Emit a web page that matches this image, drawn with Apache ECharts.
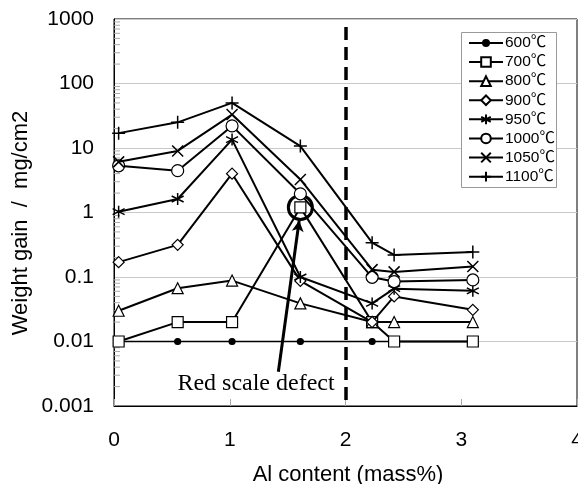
<!DOCTYPE html>
<html>
<head>
<meta charset="utf-8">
<script src="https://cdn.jsdelivr.net/npm/echarts@6/dist/echarts.min.js"></script>
<style>
  html, body { margin: 0; padding: 0; background: #fff; }
  #chart { width: 578px; height: 484px; }
</style>
</head>
<body>
<div id="chart"></div>
<script>
// ---- data ----
const alContent = [0.04, 0.55, 1.02, 1.61, 2.23, 2.42, 3.1];
const s600  = [0.01, 0.01, 0.01, 0.01, 0.01, 0.01, 0.01];
const s700  = [0.01, 0.02, 0.02, 1.2, 0.02, 0.01, 0.01];
const s800  = [0.03, 0.067, 0.088, 0.039, 0.02, 0.02, 0.02];
const s900  = [0.17, 0.315, 4.0, 0.087, 0.02, 0.05, 0.031];
const s950  = [1.03, 1.62, 13.5, 0.1, 0.039, 0.066, 0.061];
const s1000 = [5.3, 4.45, 22, 1.95, 0.099, 0.085, 0.09];
const s1050 = [6.1, 9.0, 33, 3.25, 0.13, 0.12, 0.145];
const s1100 = [17, 25, 50, 10.7, 0.34, 0.22, 0.245];
const seriesNames = ['600℃', '700℃', '800℃', '900℃', '950℃', '1000℃', '1050℃', '1100℃'];
const xTickLabels = ['0', '1', '2', '3', '4'];
const yTickValues = [0.001, 0.01, 0.1, 1, 10, 100, 1000];
const yTickLabels = ['0.001', '0.01', '0.1', '1', '10', '100', '1000'];
const minorFactors = [2, 3, 4, 5, 6, 7, 8, 9];
const defectPoint = [1.61, 1.2];
const boundaryAl = 2;
const annotationText = 'Red scale defect';
const xTitle = 'Al content (mass%)';
const yTitle = 'Weight gain  /  mg/cm2';

// ---- build ----
const allValues = [s600, s700, s800, s900, s950, s1000, s1050, s1100];
const symbols = [
  'circle', 'rect', 'triangle', 'diamond',
  'path://M0,-1L0,1M-0.866,-0.5L0.866,0.5M-0.866,0.5L0.866,-0.5',
  'circle',
  'path://M-1,-1L1,1M-1,1L1,-1',
  'path://M0,-1L0,1M-1,0L1,0'
];
const sizes = [6, 11, 11, 11, 12, 12, 11, 13];
const filled = [true, false, false, false, false, false, false, false];
const strokeOnly = [false, false, false, false, true, false, true, true];

const minorTicks = [];
yTickValues.slice(0, -1).forEach(d => minorFactors.forEach(f => minorTicks.push([0, d * f])));

const series = allValues.map((vals, i) => ({
  name: seriesNames[i],
  type: 'line',
  data: vals.map((v, j) => [alContent[j], v]),
  symbol: symbols[i],
  symbolSize: sizes[i],
  showAllSymbol: true,
  lineStyle: { color: '#000', width: i === 0 ? 1.5 : 2 },
  itemStyle: strokeOnly[i]
    ? { color: 'none', borderColor: '#000', borderWidth: 1.5 }
    : { color: filled[i] ? '#000' : '#fff', borderColor: '#000', borderWidth: 1.2 },
  emphasis: { disabled: true },
  z: 3 + i
}));

// annotation: dashed boundary, circle, arrow
series.push({
  type: 'line',
  data: [],
  silent: true,
  z: 2,
  markLine: {
    silent: true,
    symbol: ['none', 'none'],
    label: { show: false },
    lineStyle: { color: '#000', width: 3.5, type: [13, 7] },
    data: [[{ coord: [boundaryAl, 750] }, { coord: [boundaryAl, 0.001] }]]
  }
});
series.push({
  type: 'line',
  data: [],
  silent: true,
  z: 20,
  markPoint: {
    silent: true,
    symbol: 'circle',
    symbolSize: 24,
    label: { show: false },
    itemStyle: { color: 'rgba(0,0,0,0)', borderColor: '#000', borderWidth: 3 },
    data: [{ coord: defectPoint }]
  },
  markLine: {
    silent: true,
    symbol: ['none', 'arrow'],
    symbolSize: [9, 11],
    label: { show: false },
    lineStyle: { color: '#000', width: 3, type: 'solid' },
    data: [[{ coord: [1.42, 0.0034] }, { coord: [1.60, 0.75] }]]
  }
});
// minor log ticks on the y axis
series.push({
  type: 'custom',
  silent: true,
  z: 1,
  clip: false,
  data: minorTicks,
  renderItem: function (params, api) {
    const p = api.coord([0, api.value(1)]);
    return {
      type: 'line',
      shape: { x1: p[0], y1: p[1], x2: p[0] + 6, y2: p[1] },
      style: { stroke: '#aaa', lineWidth: 1 }
    };
  }
});

const legendText = { fontSize: 15.5, color: '#000', fontFamily: 'Liberation Sans, Noto Sans CJK JP, sans-serif', padding: [0, 0, 0, -3] };
const legendBase = {
  orient: 'vertical',
  left: 461,
  padding: [0, 7, 0, 7],
  itemWidth: 34,
  itemGap: 3.6,
  selectedMode: false,
  z: 10,
  textStyle: legendText
};

const chart = echarts.init(document.getElementById('chart'), null, { renderer: 'canvas' });
chart.setOption({
  animation: false,
  backgroundColor: '#fff',
  textStyle: { fontFamily: 'Liberation Sans, Arial, sans-serif' },
  grid: { left: 114, top: 19, width: 463, height: 387, show: true, borderColor: '#000', borderWidth: 1, backgroundColor: '#fff', outerBoundsMode: 'none', containLabel: false },
  legend: [
    Object.assign({}, legendBase, { data: seriesNames.slice(0, 1), top: 35.2, itemHeight: 7.5 }),
    Object.assign({}, legendBase, { data: seriesNames.slice(1), top: 54.3, itemHeight: 12 })
  ],
  xAxis: {
    type: 'value',
    min: 0, max: 4, interval: 1,
    axisLine: { show: true, lineStyle: { color: '#000', width: 1 } },
    axisTick: { show: true, inside: true, length: 7, lineStyle: { color: '#aaa' } },
    axisLabel: { fontSize: 21, color: '#000', margin: 24, formatter: v => xTickLabels[Math.round(v)] },
    splitLine: { show: false }
  },
  yAxis: {
    type: 'log',
    logBase: 10,
    min: 0.001, max: 1000,
    axisLine: { show: true, lineStyle: { color: '#000', width: 1 } },
    axisTick: { show: false },
    axisLabel: { fontSize: 21, color: '#000', margin: 20, formatter: v => yTickLabels[Math.round(Math.log10(v)) + 3] },
    splitLine: { show: true, lineStyle: { color: '#c8c8c8', width: 1 } }
  },
  graphic: [{
    type: 'rect',
    z: 8,
    silent: true,
    shape: { x: 461.5, y: 32.5, width: 95, height: 155 },
    style: { fill: '#fff', stroke: '#999', lineWidth: 1 }
  }, {
    type: 'text',
    x: 256, y: 384,
    z: 100,
    style: { text: annotationText, fontSize: 24, fontFamily: 'Liberation Serif, Times New Roman, serif', fill: '#000', textAlign: 'center', textVerticalAlign: 'middle' }
  }, {
    type: 'text',
    x: 348, y: 475,
    z: 100,
    style: { text: xTitle, fontSize: 22, fontFamily: 'Liberation Sans, Arial, sans-serif', fill: '#000', textAlign: 'center', textVerticalAlign: 'middle' }
  }, {
    type: 'text',
    x: 21, y: 223,
    rotation: Math.PI / 2,
    z: 100,
    style: { text: yTitle, fontSize: 22, fontFamily: 'Liberation Sans, Arial, sans-serif', fill: '#000', textAlign: 'center', textVerticalAlign: 'middle' }
  }],
  series: series
});
</script>
</body>
</html>
